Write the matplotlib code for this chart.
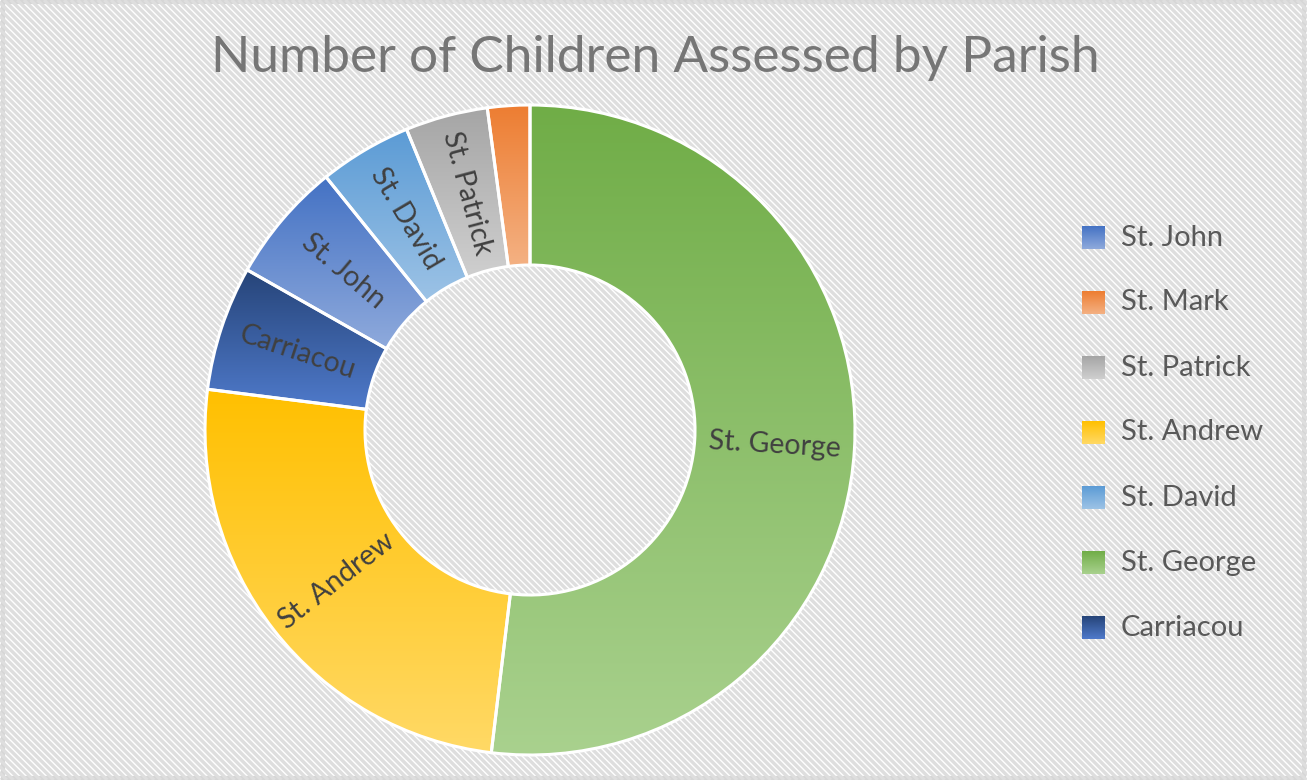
import numpy as np
import matplotlib.pyplot as plt
from matplotlib.colors import LinearSegmentedColormap
from matplotlib.collections import LineCollection
from matplotlib.patches import Rectangle

W, H = 1307, 780

# ---- data (clockwise from 12 o'clock) ----
parishes = ["St. George", "St. Andrew", "Carriacou", "St. John", "St. David", "St. Patrick", "St. Mark"]
children = [51.9, 25.1, 6.2, 6.0, 4.6, 4.1, 2.1]
top_colors = ["#70AD47", "#FFC000", "#264478", "#4472C4", "#5B9BD5", "#A5A5A5", "#ED7D31"]
bottom_colors = ["#A9D18E", "#FFD966", "#4F7ACB", "#8FAADC", "#9DC3E6", "#CFCFCF", "#F4B183"]
legend_order = ["St. John", "St. Mark", "St. Patrick", "St. Andrew", "St. David", "St. George", "Carriacou"]
no_label = ["St. Mark"]

FONT = "Lato"

fig = plt.figure(figsize=(W / 100, H / 100), dpi=100)

# ---- background with diagonal stripes ----
bg = fig.add_axes([0, 0, 1, 1])
bg.set_xlim(0, W)
bg.set_ylim(H, 0)
bg.axis("off")
offs = np.arange(-H, W + 10, 6.7)
bg.add_collection(LineCollection([[(c, 0), (c + H, H)] for c in offs],
                                 colors="#DEDEDE", linewidths=2.4))
# lighter legend panel
bg.add_patch(Rectangle((1048, 192), 240, 481, facecolor="white", alpha=0.55, edgecolor="none"))
# outer frame
bg.add_patch(Rectangle((3, 1.5), W - 6, H - 4, fill=False, edgecolor="#D6D6D6", lw=3))

grad = np.linspace(0, 1, 256).reshape(-1, 1)

# ---- legend (drawn by hand so the swatches keep their gradient) ----
for i, name in enumerate(legend_order):
    k = parishes.index(name)
    yc = 237.5 + 65 * i
    cm_ = LinearSegmentedColormap.from_list(name, [top_colors[k], bottom_colors[k]])
    bg.imshow(grad, cmap=cm_, extent=(1082, 1105, yc + 11.5, yc - 11.5),
              aspect="auto", origin="upper", zorder=3)
    bg.text(1121, yc, name, ha="left", va="center", fontsize=21,
            color="#595959", family=FONT, zorder=3)
bg.set_xlim(0, W)
bg.set_ylim(H, 0)

# ---- doughnut ----
cx, cy, R, r_in = 530, 430, 325, 165
ax = fig.add_axes([(cx - R) / W, (H - cy - R) / H, 2 * R / W, 2 * R / H])
ring = 1 - r_in / R
wedges, _ = ax.pie(children, startangle=90, counterclock=False, radius=1,
                   wedgeprops=dict(width=ring, edgecolor="white", linewidth=2.2,
                                   facecolor="none"))

for w, name, ct, cb in zip(wedges, parishes, top_colors, bottom_colors):
    ext = w.get_path().get_extents(w.get_patch_transform())
    cm_ = LinearSegmentedColormap.from_list(name, [cb, ct])
    im = ax.imshow(grad, cmap=cm_, extent=(ext.x0, ext.x1, ext.y0, ext.y1),
                   origin="lower", aspect="auto", zorder=1)
    im.set_clip_path(w)
    w.set_zorder(2)
    if name in no_label:
        continue
    th = (w.theta1 + w.theta2) / 2
    rr = 1 - ring / 2
    rot = ((th + 90) % 180) - 90
    ax.text(rr * np.cos(np.radians(th)), rr * np.sin(np.radians(th)), name,
            rotation=rot, rotation_mode="anchor", ha="center", va="center",
            fontsize=20.5, color="#404040", family=FONT, zorder=3)

ax.set_xlim(-1, 1)
ax.set_ylim(-1, 1)
ax.axis("off")

fig.text(655 / W, 1 - 58 / H, "Number of Children Assessed by Parish",
         ha="center", va="center", fontsize=37, color="#767676", family=FONT)

fig.savefig("out.png", dpi=100)
